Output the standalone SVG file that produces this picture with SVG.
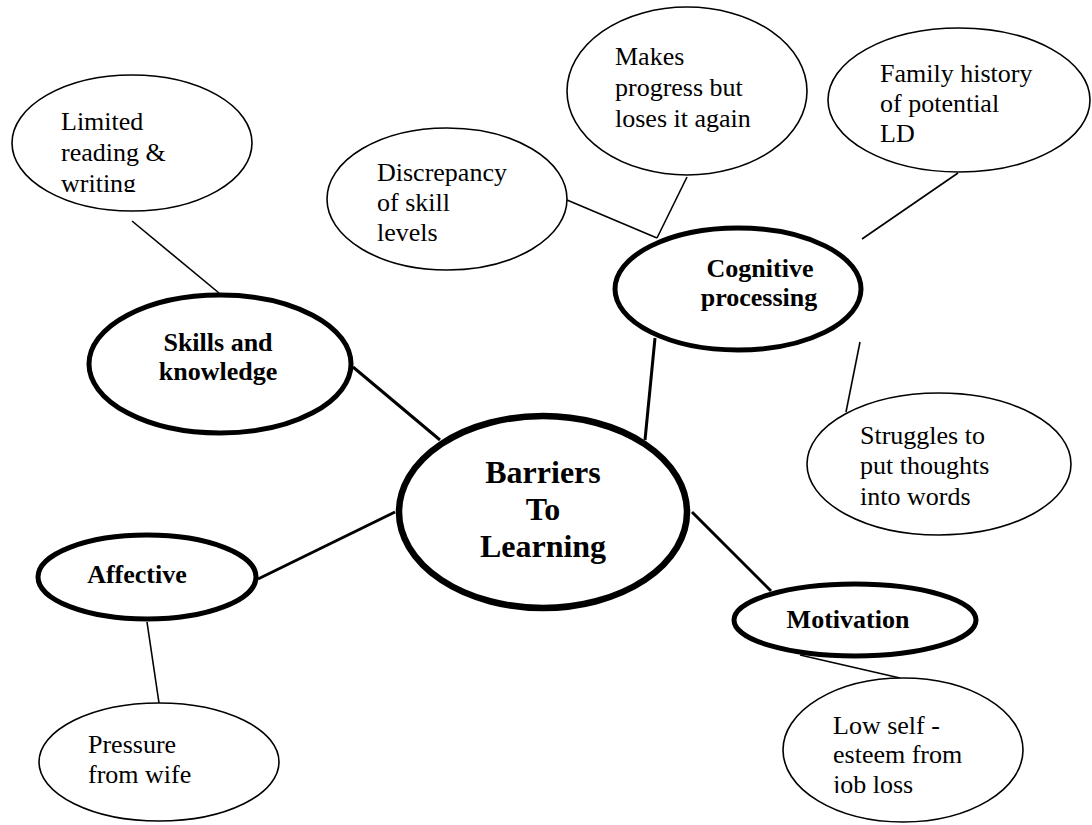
<svg xmlns="http://www.w3.org/2000/svg" width="1092" height="825" viewBox="0 0 1092 825">
<style>
.thin{fill:#fff;stroke:#000;stroke-width:1.6}
.thick{fill:#fff;stroke:#000;stroke-width:5}
.main{fill:#fff;stroke:#000;stroke-width:6.5}
.t{font-family:'Liberation Serif','Times New Roman',serif;font-size:26px;fill:#000}
.b{font-family:'Liberation Serif','Times New Roman',serif;font-size:26px;font-weight:bold;fill:#000;text-anchor:middle}
.bm{font-family:'Liberation Serif','Times New Roman',serif;font-size:32px;font-weight:bold;fill:#000;text-anchor:middle}
.c1{stroke:#000;stroke-width:3;fill:none}
.c2{stroke:#000;stroke-width:1.6;fill:none}
</style>
<defs>
<clipPath id="clipLim"><rect x="0" y="0" width="300" height="192"/></clipPath>
<clipPath id="clipLow"><rect x="780" y="600" width="300" height="193"/></clipPath>
</defs>
<rect width="1092" height="825" fill="#fff"/>
<g id="connectors">
<line class="c1" x1="353" y1="367" x2="440" y2="440"/>
<line class="c1" x1="258" y1="579" x2="395" y2="512"/>
<line class="c1" x1="655" y1="338" x2="645" y2="440"/>
<line class="c1" x1="692" y1="512" x2="771" y2="591"/>
<line class="c2" x1="132" y1="221" x2="219" y2="293"/>
<line class="c2" x1="567" y1="200" x2="657" y2="238"/>
<line class="c2" x1="687" y1="177" x2="657" y2="238"/>
<line class="c2" x1="958" y1="173" x2="862" y2="239"/>
<line class="c2" x1="860" y1="342" x2="846" y2="412"/>
<line class="c2" x1="147" y1="622" x2="159" y2="703"/>
<line class="c2" x1="800" y1="655" x2="900" y2="678"/>
</g>
<g id="limited">
<ellipse class="thin" cx="132" cy="143" rx="120" ry="68"/>
<g clip-path="url(#clipLim)">
<text class="t" x="61" y="130">Limited</text>
<text class="t" x="61" y="161">reading &amp;</text>
<text class="t" x="61" y="192">writing</text>
</g>
</g>
<g id="discrepancy">
<ellipse class="thin" cx="447" cy="199" rx="120" ry="71"/>
<text class="t" x="377" y="181">Discrepancy</text>
<text class="t" x="377" y="211">of skill</text>
<text class="t" x="377" y="241">levels</text>
</g>
<g id="makes">
<ellipse class="thin" cx="687" cy="91" rx="120" ry="84"/>
<text class="t" x="615" y="65">Makes</text>
<text class="t" x="615" y="96">progress but</text>
<text class="t" x="615" y="127">loses it again</text>
</g>
<g id="family">
<ellipse class="thin" cx="959" cy="100" rx="131" ry="72"/>
<text class="t" x="880" y="82">Family history</text>
<text class="t" x="880" y="112">of potential</text>
<text class="t" x="880" y="142">LD</text>
</g>
<g id="cognitive">
<ellipse class="thick" cx="738" cy="289" rx="123" ry="61"/>
<text class="b" x="760" y="277">Cognitive</text>
<text class="b" x="759" y="306">processing</text>
</g>
<g id="skills">
<ellipse class="thick" cx="220" cy="364" rx="131" ry="69"/>
<text class="b" x="218" y="351">Skills and</text>
<text class="b" x="218" y="380">knowledge</text>
</g>
<g id="struggles">
<ellipse class="thin" cx="939" cy="464" rx="132" ry="71"/>
<text class="t" x="860" y="444">Struggles to</text>
<text class="t" x="860" y="474">put thoughts</text>
<text class="t" x="860" y="505">into words</text>
</g>
<g id="barriers">
<ellipse class="main" cx="543" cy="512" rx="144" ry="96"/>
<text class="bm" x="543" y="483">Barriers</text>
<text class="bm" x="543" y="520">To</text>
<text class="bm" x="543" y="557">Learning</text>
</g>
<g id="affective">
<ellipse class="thick" cx="147" cy="577" rx="109" ry="42"/>
<text class="b" x="137" y="583">Affective</text>
</g>
<g id="pressure">
<ellipse class="thin" cx="159" cy="762" rx="120" ry="59"/>
<text class="t" x="88" y="753">Pressure</text>
<text class="t" x="88" y="783">from wife</text>
</g>
<g id="motivation">
<ellipse class="thick" cx="855" cy="620" rx="121" ry="36"/>
<text class="b" x="848" y="628">Motivation</text>
</g>
<g id="lowself">
<ellipse class="thin" cx="903" cy="750" rx="120" ry="72"/>
<g clip-path="url(#clipLow)">
<text class="t" x="833" y="734">Low self -</text>
<text class="t" x="833" y="763">esteem from</text>
<text class="t" x="833" y="793">job loss</text>
</g>
</g>
</svg>
